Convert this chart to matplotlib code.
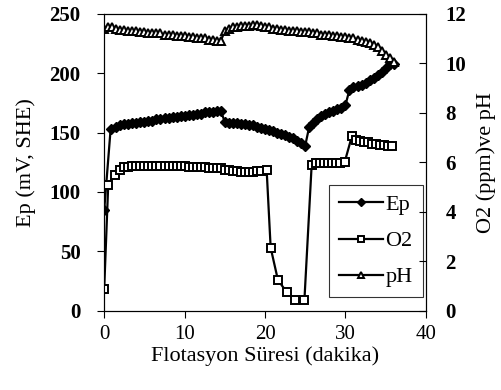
import matplotlib.pyplot as plt
import numpy as np

# Ep (mV, SHE) - left axis
t_ep = [0, 0.8, 1.5, 2, 2.5, 3, 3.5, 4, 4.5, 5, 5.5, 6, 6.5, 7, 7.5, 8, 8.5, 9, 9.5,
        10, 10.5, 11, 11.5, 12, 12.5, 13, 13.5, 14, 14.5, 15, 15.5, 16, 16.5, 17,
        17.5, 18, 18.5, 19, 19.5, 20, 20.5, 21, 21.5, 22, 22.5, 23, 23.5, 24, 24.5,
        25, 25.5, 26, 26.5, 27, 27.5, 28, 28.5, 29, 29.5, 30, 30.5, 31, 31.5, 32,
        32.5, 33, 33.5, 34, 34.5, 35, 35.5, 36]
ep = [85, 153, 155, 156, 157, 157, 158, 158, 159, 159, 160, 160, 161, 161, 162, 162,
      163, 163, 164, 164, 165, 165, 166, 166, 167, 167, 167, 168, 168, 159, 158, 158,
      158, 157, 157, 156, 156, 155, 154, 153, 152, 151, 150, 149, 148, 146, 145, 143,
      141, 139, 155, 158, 161, 164, 166, 167, 168, 170, 171, 173, 186, 188, 189, 190,
      192, 194, 196, 198, 201, 204, 208, 208]

# O2 (ppm) - right axis
t_o2 = [0, 0.5, 1.3, 2, 2.5, 3, 3.5, 4, 4.5, 5, 5.5, 6, 6.5, 7, 7.5, 8, 8.5, 9, 9.5,
        10, 10.5, 11, 11.5, 12, 12.5, 13, 13.5, 14, 14.5, 15, 15.5, 16, 16.5, 17,
        17.5, 18, 18.5, 19, 19.5, 20.2, 20.7, 21.6, 22.7, 23.7, 24.9, 25.8, 26.3,
        26.8, 27.3, 27.8, 28.3, 28.8, 29.3, 29.9, 30.8, 31.3, 31.8, 32.3, 32.8, 33.3,
        33.8, 34.3, 34.8, 35.3, 35.8]
o2 = [0.9, 5.1, 5.5, 5.7, 5.8, 5.8, 5.85, 5.85, 5.85, 5.85, 5.85, 5.85, 5.85, 5.85,
      5.85, 5.85, 5.85, 5.85, 5.85, 5.85, 5.8, 5.8, 5.8, 5.8, 5.8, 5.75, 5.75, 5.75,
      5.75, 5.7, 5.7, 5.65, 5.65, 5.6, 5.6, 5.6, 5.6, 5.65, 5.65, 5.7, 2.55, 1.25,
      0.75, 0.45, 0.45, 5.9, 5.95, 5.95, 5.95, 5.95, 5.95, 5.95, 5.95, 6.0, 7.05,
      6.9, 6.85, 6.8, 6.8, 6.75, 6.75, 6.7, 6.7, 6.65, 6.65]

# pH - right axis
t_ph = [0, 0.5, 1, 1.5, 2, 2.5, 3, 3.5, 4, 4.5, 5, 5.5, 6, 6.5, 7, 7.5, 8, 8.5, 9, 9.5,
        10, 10.5, 11, 11.5, 12, 12.5, 13, 13.5, 14, 14.5, 15, 15.5, 16, 16.5, 17,
        17.5, 18, 18.5, 19, 19.5, 20, 20.5, 21, 21.5, 22, 22.5, 23, 23.5, 24, 24.5,
        25, 25.5, 26, 26.5, 27, 27.5, 28, 28.5, 29, 29.5, 30, 30.5, 31, 31.5, 32,
        32.5, 33, 33.5, 34, 34.5, 35, 35.5, 36]
ph = [11.4, 11.45, 11.45, 11.4, 11.35, 11.35, 11.3, 11.3, 11.3, 11.25, 11.25, 11.2,
      11.2, 11.2, 11.2, 11.15, 11.15, 11.15, 11.1, 11.1, 11.1, 11.05, 11.05, 11.0,
      11.0, 11.0, 10.95, 10.95, 10.9, 10.9, 11.3, 11.4, 11.45, 11.45, 11.5, 11.5,
      11.5, 11.55, 11.55, 11.5, 11.45, 11.45, 11.4, 11.4, 11.35, 11.35, 11.3, 11.3,
      11.3, 11.25, 11.25, 11.25, 11.2, 11.2, 11.15, 11.15, 11.15, 11.1, 11.1, 11.05,
      11.05, 11.0, 11.0, 10.95, 10.9, 10.85, 10.8, 10.75, 10.65, 10.5, 10.35, 10.2,
      10.05]

plt.rcParams['font.family'] = 'Liberation Serif'

fig, ax = plt.subplots(figsize=(5.01, 3.90), dpi=100)
fig.subplots_adjust(left=0.208, right=0.850, top=0.965, bottom=0.203)
ax2 = ax.twinx()

l1, = ax.plot(t_ep, ep, color='black', lw=1.6, marker='D', ms=5.5,
              markerfacecolor='black', label='Ep')
l2, = ax2.plot(t_o2, o2, color='black', lw=1.6, marker='s', ms=5.5,
               markerfacecolor='white', markeredgewidth=1.4, label='O2')
l3, = ax2.plot(t_ph, ph, color='black', lw=1.6, marker='^', ms=6,
               markerfacecolor='white', markeredgewidth=1.4, label='pH')

ax.set_xlim(0, 40)
ax.set_ylim(0, 250)
ax2.set_ylim(0, 12)
ax.set_xticks([0, 10, 20, 30, 40])
ax.set_yticks([0, 50, 100, 150, 200, 250])
ax2.set_yticks([0, 2, 4, 6, 8, 10, 12])

ax.tick_params(axis='x', direction='out', length=5, labelsize=15, pad=5)
ax.tick_params(axis='y', direction='out', length=5, labelsize=15, pad=12)
ax2.tick_params(axis='y', direction='in', length=5, labelsize=15, pad=14)
for lab in ax.get_yticklabels() + ax2.get_yticklabels():
    lab.set_fontweight('bold')

ax.set_xlabel('Flotasyon Süresi (dakika)', fontsize=16, labelpad=2)
ax.set_ylabel('Ep (mV, SHE)', fontsize=16, labelpad=10)
ax2.set_ylabel('O2 (ppm)ve pH', fontsize=16, labelpad=7)

leg = ax.legend(handles=[l1, l2, l3], loc='lower right',
                bbox_to_anchor=(0.99, 0.045), fontsize=16, frameon=True,
                fancybox=False, edgecolor='black', handlelength=2.0,
                handletextpad=0.1, labelspacing=0.7, borderpad=0.45,
                borderaxespad=0, markerscale=0.8)
leg.get_frame().set_linewidth(0.8)

plt.savefig('out.png', dpi=100)
